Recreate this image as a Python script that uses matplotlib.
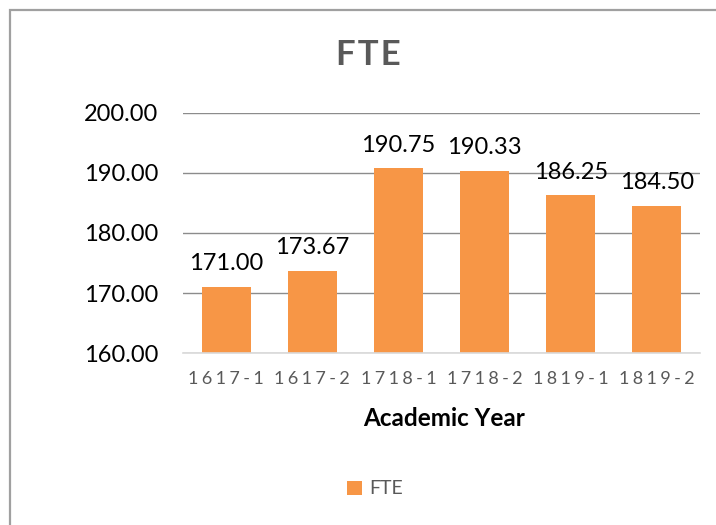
import matplotlib
matplotlib.use("Agg")
import matplotlib.pyplot as plt
from matplotlib.patches import Rectangle

# data
categories = ["1617-1", "1617-2", "1718-1", "1718-2", "1819-1", "1819-2"]
fte = [171.00, 173.67, 190.75, 190.33, 186.25, 184.50]
y_ticks = [160, 170, 180, 190, 200]

ORANGE = "#F79646"
GRAY_TXT = "#595959"

plt.rcParams["font.family"] = ["Lato", "DejaVu Sans"]

fig = plt.figure(figsize=(7.16, 5.25), dpi=100)
fig.patch.set_facecolor("white")

# chart border (right/bottom edges run off the picture)
fig.patches.append(Rectangle((9.5 / 716, -0.05), 1.2, 1 - 9.5 / 525 + 0.05,
                             transform=fig.transFigure, fill=False,
                             edgecolor="#a0a0a0", linewidth=1.6))

ax = fig.add_axes([183 / 716, 1 - 353 / 525, (700 - 183) / 716, (353 - 113) / 525])
x = list(range(len(categories)))
bars = ax.bar(x, fte, width=0.57, color=ORANGE, zorder=3, label="FTE")

ax.set_xlim(-0.5, len(categories) - 0.5)
ax.set_ylim(160, 200)
ax.set_yticks(y_ticks)
ax.set_yticklabels([f"{v:.2f}" for v in y_ticks], fontsize=17, color="black")
ax.set_xticks(x)
# letter-spaced category labels
ax.set_xticklabels(["\u2009\u200a".join(c) for c in categories], fontsize=13, color=GRAY_TXT)
ax.tick_params(axis="y", length=0, pad=18)
ax.tick_params(axis="x", length=0, pad=13)

ax.grid(axis="y", color="#8c8c8c", linewidth=1.0, zorder=0)
for side in ["top", "right", "left"]:
    ax.spines[side].set_visible(False)
ax.spines["bottom"].set_color("#d9d9d9")
ax.spines["bottom"].set_linewidth(1.2)
ax.spines["bottom"].set_zorder(4)

for rect, v in zip(bars, fte):
    ax.annotate(f"{v:.2f}", (rect.get_x() + rect.get_width() / 2, v),
                xytext=(0, 12), textcoords="offset points",
                ha="center", va="baseline", fontsize=17, color="black")

fig.text(368 / 716, 1 - 55 / 525, "F\u200aT\u200aE", ha="center", va="center",
         fontsize=25, fontweight="bold", color=GRAY_TXT)
fig.text(444 / 716, 1 - 418 / 525, "Academic Year", ha="center", va="center",
         fontsize=17.5, fontweight="bold", color="black")

fig.legend(handles=[bars], labels=["FTE"], loc="center",
           bbox_to_anchor=(375 / 716, 1 - 489 / 525), frameon=False,
           fontsize=14, labelcolor=GRAY_TXT, handlelength=0.75, handleheight=0.75,
           handletextpad=0.35)

fig.savefig("out.png", dpi=100, facecolor="white")
